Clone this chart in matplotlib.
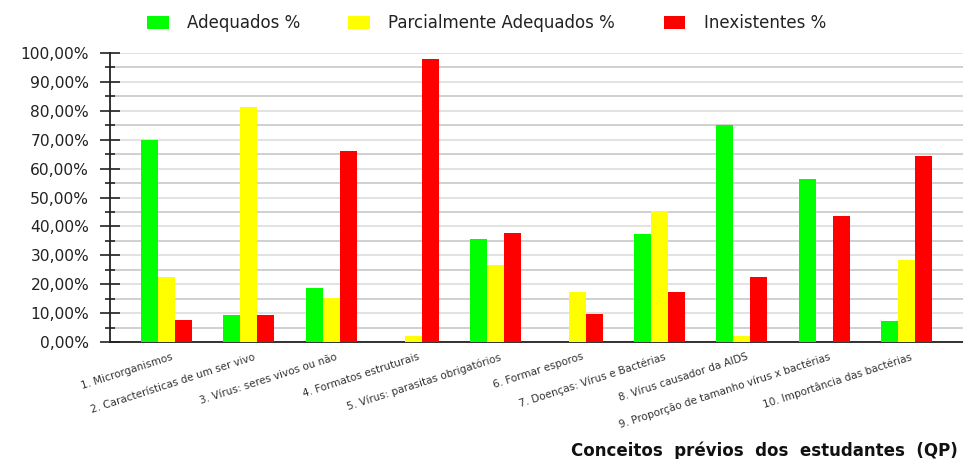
import numpy as np
import matplotlib
matplotlib.use("Agg")
import matplotlib.pyplot as plt
from matplotlib.ticker import MultipleLocator, FuncFormatter
import matplotlib.transforms as mtransforms

plt.rcParams['font.family'] = ['DejaVu Sans']

categories = [
    "1. Microrganismos",
    "2. Características de um ser vivo",
    "3. Vírus: seres vivos ou não",
    "4. Formatos estruturais",
    "5. Vírus: parasitas obrigatórios",
    "6. Formar esporos",
    "7. Doenças: Vírus e Bactérias",
    "8. Vírus causador da AIDS",
    "9. Proporção de tamanho vírus x bactérias",
    "10. Importância das bactérias",
]
series_names = ["Adequados %", "Parcialmente Adequados %", "Inexistentes %"]
adequados = [70.0, 9.3, 18.7, 0.0, 35.6, 0.0, 37.4, 75.0, 56.4, 7.3]
parcialmente = [22.5, 81.2, 15.2, 2.0, 26.6, 17.3, 45.2, 2.1, 0.0, 28.4]
inexistentes = [7.5, 9.5, 66.1, 98.0, 37.7, 9.7, 17.3, 22.5, 43.6, 64.4]
colors = ["#00ff00", "#ffff00", "#ff0000"]

fig = plt.figure(figsize=(9.63, 4.59), dpi=100)
ax = fig.add_axes([110 / 963, 1 - 342 / 459, 1 - 110 / 963, (342 - 53) / 459])

x = np.arange(len(categories))
w = 0.207
for i, (vals, name, c) in enumerate(zip([adequados, parcialmente, inexistentes], series_names, colors)):
    ax.bar(x + (i - 1) * w, vals, width=w, color=c, label=name, zorder=3)

ax.set_xlim(-0.69, len(categories) - 1 + 0.69)
ax.set_ylim(0, 100)
ax.yaxis.set_major_locator(MultipleLocator(10))
ax.yaxis.set_minor_locator(MultipleLocator(5))
ax.yaxis.set_major_formatter(FuncFormatter(lambda v, p: f"{v:.2f}".replace(".", ",") + "%"))
ax.grid(axis='y', which='major', color='#dadada', linewidth=1.1, zorder=0)
ax.grid(axis='y', which='minor', color='#c4c4c4', linewidth=1.1, zorder=0)
ax.tick_params(axis='y', which='major', direction='inout', length=14, width=1.2,
               color='#222222', labelsize=11.2, labelcolor='#222222', pad=8)
ax.tick_params(axis='y', which='minor', direction='inout', length=7, width=1.2, color='#222222')

for s in ['top', 'right']:
    ax.spines[s].set_visible(False)
for s in ['left', 'bottom']:
    ax.spines[s].set_color('#222222')
    ax.spines[s].set_linewidth(1.3)

ax.set_xticks(x)
ax.set_xticklabels(categories, rotation=18, ha='right', rotation_mode='anchor',
                   fontsize=7.5, color='#333333')
ax.tick_params(axis='x', length=0, pad=7)
offset = mtransforms.ScaledTranslation(4 / 100, 0, fig.dpi_scale_trans)
for lbl in ax.get_xticklabels():
    lbl.set_transform(lbl.get_transform() + offset)

fig.legend(loc='center', bbox_to_anchor=(0.505, 1 - 23 / 459), ncol=3, frameon=False,
           fontsize=12, handlelength=1.3, handleheight=0.8, columnspacing=2.9,
           handletextpad=1.1, labelcolor='#222222')

fig.text(958 / 963, 1 - 451 / 459, "Conceitos  prévios  dos  estudantes  (QP)",
         ha='right', va='center', fontsize=12, fontweight='bold', color='#111111')

fig.savefig("out.png", dpi=100)
